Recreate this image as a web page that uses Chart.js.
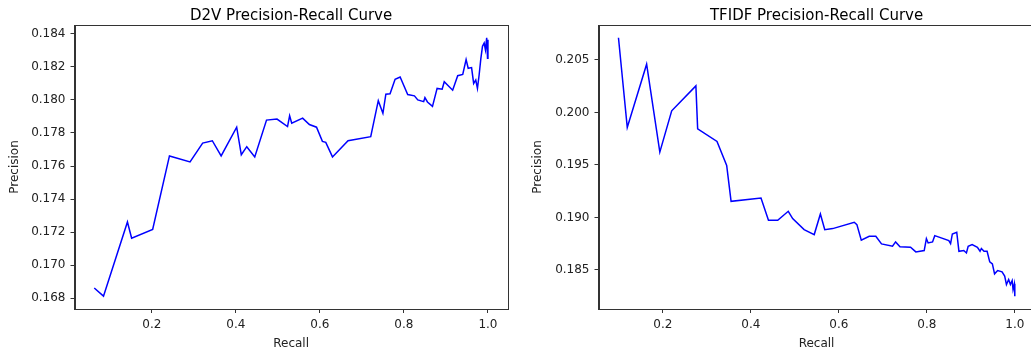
<!DOCTYPE html>
<html lang="en">
<head>
  <meta charset="UTF-8">
  <title>Precision-Recall Curves</title>
  <script src="https://cdn.jsdelivr.net/npm/chart.js"></script>
  <style>
    html, body {
      margin: 0;
      background: #fff;
      overflow: hidden;
      width: 1031px;
      height: 354px;
    }
    canvas {
      position: absolute;
      top: 0;
    }
    #d2vChart { left: 0; }
    #tfidfChart { left: 523px; }
  </style>
</head>
<body>

<canvas id="d2vChart" width="520" height="354"></canvas>
<canvas id="tfidfChart" width="520" height="354"></canvas>

<script>
  // values
  const d2vRecall = [0.063, 0.085, 0.142, 0.152, 0.202, 0.242, 0.291, 0.321, 0.344, 0.365, 0.402, 0.413, 0.426, 0.445,
    0.473, 0.498, 0.523, 0.528, 0.533, 0.559, 0.575, 0.592, 0.606, 0.614, 0.630, 0.667, 0.721, 0.739, 0.750, 0.757,
    0.767, 0.779, 0.791, 0.809, 0.825, 0.833, 0.847, 0.850, 0.856, 0.868, 0.879, 0.891, 0.896, 0.916, 0.928, 0.940,
    0.948, 0.953, 0.961, 0.966, 0.971, 0.975, 0.979, 0.983, 0.987, 0.991, 0.994, 0.997, 0.999, 1.000, 1.000];
  const d2vPrecision = [0.16861, 0.16812, 0.17261, 0.17163, 0.17216, 0.17661, 0.17625, 0.17739, 0.17753, 0.17661,
    0.17835, 0.17668, 0.17717, 0.17655, 0.17878, 0.17884, 0.17839, 0.17904, 0.17859, 0.17890, 0.17851, 0.17835,
    0.17749, 0.17743, 0.17655, 0.17753, 0.17778, 0.17996, 0.17919, 0.18035, 0.18037, 0.18125, 0.18139, 0.18033,
    0.18025, 0.18000, 0.17990, 0.18014, 0.17988, 0.17961, 0.18070, 0.18065, 0.18110, 0.18059, 0.18147, 0.18155,
    0.18245, 0.18192, 0.18196, 0.18100, 0.18121, 0.18070, 0.18151, 0.18249, 0.18325, 0.18345, 0.18304, 0.18376,
    0.18253, 0.18365, 0.18253];

  const tfidfRecall = [0.099, 0.119, 0.163, 0.193, 0.220, 0.275, 0.279, 0.323, 0.345, 0.355, 0.423, 0.440, 0.461,
    0.485, 0.495, 0.521, 0.544, 0.558, 0.568, 0.586, 0.635, 0.641, 0.651, 0.669, 0.684, 0.697, 0.722, 0.729, 0.739,
    0.763, 0.775, 0.794, 0.799, 0.803, 0.813, 0.818, 0.850, 0.854, 0.858, 0.868, 0.873, 0.884, 0.890, 0.894, 0.903,
    0.915, 0.921, 0.924, 0.930, 0.937, 0.943, 0.949, 0.954, 0.961, 0.971, 0.977, 0.981, 0.986, 0.990, 0.994, 0.996,
    0.999, 1.000];
  const tfidfPrecision = [0.20712, 0.19856, 0.20459, 0.19622, 0.20015, 0.20253, 0.19844, 0.19723, 0.19495, 0.19153,
    0.19184, 0.18972, 0.18972, 0.19058, 0.18988, 0.18883, 0.18836, 0.19032, 0.18883, 0.18893, 0.18953, 0.18931,
    0.18782, 0.18820, 0.18820, 0.18747, 0.18725, 0.18766, 0.18719, 0.18715, 0.18671, 0.18684, 0.18798, 0.18756,
    0.18766, 0.18826, 0.18779, 0.18750, 0.18842, 0.18858, 0.18677, 0.18684, 0.18661, 0.18725, 0.18741, 0.18715,
    0.18677, 0.18703, 0.18677, 0.18677, 0.18576, 0.18557, 0.18462, 0.18493, 0.18481, 0.18440, 0.18360, 0.18408,
    0.18360, 0.18398, 0.18313, 0.18367, 0.18249];

  const xTicks = [0.2, 0.4, 0.6, 0.8, 1.0];
  const d2vYTicks = [0.168, 0.170, 0.172, 0.174, 0.176, 0.178, 0.180, 0.182, 0.184];
  const tfidfYTicks = [0.185, 0.190, 0.195, 0.200, 0.205];

  const FONT = 'DejaVu Sans';
  const TEXT = '#222';
  const AXIS = '#333';

  // matplotlib-like frame around the plot area, plus a title centred on the axes
  const frame = {
    id: 'frame',
    afterDraw(chart, args, opts) {
      const a = chart.chartArea;
      const ctx = chart.ctx;
      ctx.save();
      ctx.strokeStyle = AXIS;
      ctx.lineWidth = 1;
      ctx.strokeRect(Math.round(a.left) + 0.5, Math.round(a.top) + 0.5,
        Math.round(a.right - a.left), Math.round(a.bottom - a.top));
      ctx.fillStyle = '#000';
      ctx.font = '15px "' + FONT + '"';
      ctx.textAlign = 'center';
      ctx.textBaseline = 'alphabetic';
      ctx.fillText(opts.text, (a.left + a.right) / 2, 20);
      ctx.restore();
    }
  };

  function makeChart(id, title, recall, precision, yTicks, xMin, xMax, yMin, yMax, yWidth, padRight) {
    const points = recall.map((r, i) => ({ x: r, y: precision[i] }));
    return new Chart(document.getElementById(id), {
      type: 'line',
      data: {
        datasets: [{
          data: points,
          borderColor: '#0000ff',
          borderWidth: 1.5,
          pointRadius: 0,
          tension: 0,
          fill: false
        }]
      },
      options: {
        responsive: false,
        animation: false,
        devicePixelRatio: 1,
        layout: { padding: { left: 0, right: padRight, top: 25, bottom: 0 } },
        plugins: {
          legend: { display: false },
          tooltip: { enabled: false },
          title: { display: false },
          frame: { text: title }
        },
        scales: {
          x: {
            type: 'linear',
            min: xMin,
            max: xMax,
            afterBuildTicks: s => { s.ticks = xTicks.map(v => ({ value: v })); },
            afterFit: s => { s.height = 45; },
            grid: { drawOnChartArea: false, drawTicks: true, tickLength: 4, color: AXIS },
            border: { display: true, color: AXIS },
            ticks: {
              color: TEXT,
              padding: 5,
              maxRotation: 0,
              font: { family: FONT, size: 12 },
              callback: v => v.toFixed(1)
            },
            title: {
              display: true,
              text: 'Recall',
              color: TEXT,
              font: { family: FONT, size: 12 },
              padding: { top: 0, bottom: 3 }
            }
          },
          y: {
            type: 'linear',
            min: yMin,
            max: yMax,
            afterBuildTicks: s => { s.ticks = yTicks.map(v => ({ value: v })); },
            afterFit: s => { s.width = yWidth; },
            grid: { drawOnChartArea: false, drawTicks: true, tickLength: 4, color: AXIS },
            border: { display: true, color: AXIS },
            ticks: {
              color: TEXT,
              padding: 5,
              font: { family: FONT, size: 12 },
              callback: v => v.toFixed(3)
            },
            title: {
              display: true,
              text: 'Precision',
              color: TEXT,
              font: { family: FONT, size: 12 },
              padding: { top: 8, bottom: 0 }
            }
          }
        }
      },
      plugins: [frame]
    });
  }

  makeChart('d2vChart', 'D2V Precision-Recall Curve', d2vRecall, d2vPrecision, d2vYTicks,
    0.016, 1.047, 0.16734, 0.18454, 74.5, 12.3);
  makeChart('tfidfChart', 'TFIDF Precision-Recall Curve', tfidfRecall, tfidfPrecision, tfidfYTicks,
    0.0536, 1.045, 0.18127, 0.20833, 75.5, 8.4);
</script>

</body>
</html>
